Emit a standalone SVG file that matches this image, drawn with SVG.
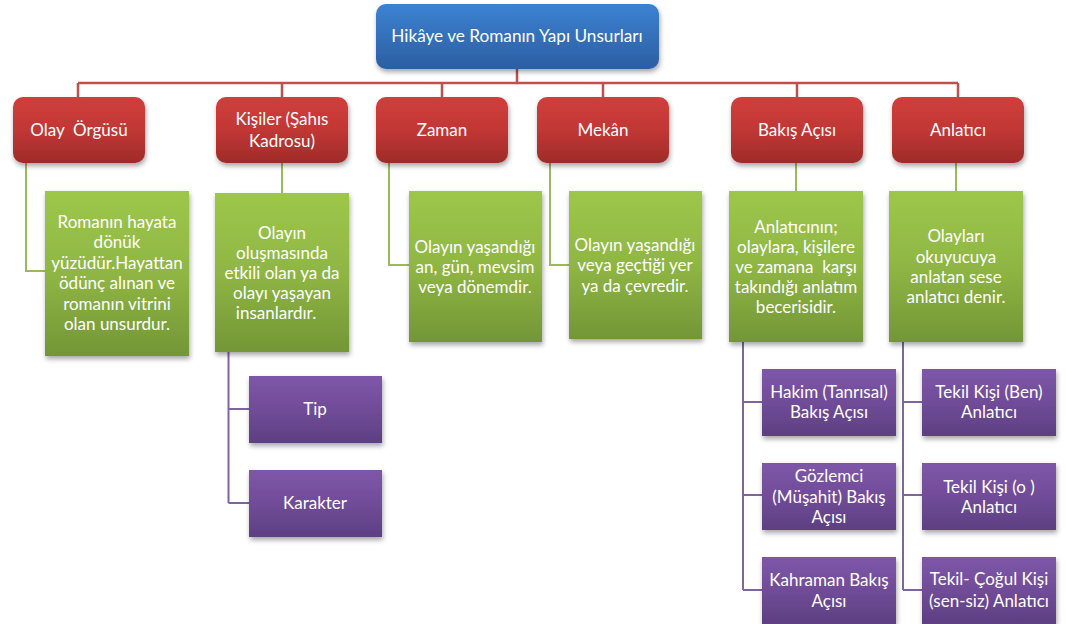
<svg xmlns="http://www.w3.org/2000/svg" width="1067" height="624" viewBox="0 0 1067 624">
<defs>
<linearGradient id="gBlue" x1="0" y1="0" x2="0" y2="1"><stop offset="0" stop-color="#3c82d2"/><stop offset="1" stop-color="#2c5ea2"/></linearGradient>
<linearGradient id="gRed" x1="0" y1="0" x2="0" y2="1"><stop offset="0" stop-color="#d03f3c"/><stop offset="0.5" stop-color="#c13735"/><stop offset="1" stop-color="#9f2b29"/></linearGradient>
<linearGradient id="gGreen" x1="0" y1="0" x2="0" y2="1"><stop offset="0" stop-color="#9dc74a"/><stop offset="0.5" stop-color="#8fb644"/><stop offset="1" stop-color="#739636"/></linearGradient>
<linearGradient id="gPurple" x1="0" y1="0" x2="0" y2="1"><stop offset="0" stop-color="#7e57a9"/><stop offset="0.5" stop-color="#704c98"/><stop offset="1" stop-color="#5d3f82"/></linearGradient>
<filter id="sh" x="-10%" y="-10%" width="125%" height="130%"><feDropShadow dx="1" dy="3" stdDeviation="2.5" flood-color="#000" flood-opacity="0.35"/></filter>
</defs>
<style>
text{font-family:Lato,"Open Sans","Liberation Sans",sans-serif;fill:#fff;text-anchor:middle}
.root{font-size:17.2px}
.red{font-size:17px}
.grn{font-size:17px}
.pur{font-size:17px}
.cr{stroke:#c0504d;stroke-width:2.5;fill:none}
.cg{stroke:#9bbb59;stroke-width:2;fill:none}
.cp{stroke:#8064a2;stroke-width:2;fill:none}
</style>
<g id="connectors">
<path class="cr" d="M517 69V83M78 83H958M78 83V97M282 83V97M442 83V97M603 83V97M797 83V97M958 83V97"/>
<path class="cg" d="M26 163V271H45M282 163V193M389 163V265H409M550 163V265H569M796 163V191M956 163V191"/>
<path class="cp" d="M228.5 352V503M228.5 409H249M228.5 503H249M743 342V590M743 402H762M743 495H762M743 590H762M903 342V590M903 402H922M903 495H922M903 590H922"/>
</g>
<g id="root"><rect x="376" y="4" width="283" height="65" rx="10" fill="url(#gBlue)" filter="url(#sh)"/><text class="root" x="517" y="42">Hikâye ve Romanın Yapı Unsurları</text></g>
<g id="olay"><rect x="13" y="97" width="132" height="66" rx="10" fill="url(#gRed)" filter="url(#sh)"/><text class="red" x="79" y="136" xml:space="preserve">Olay  Örgüsü</text></g>
<g id="kisiler"><rect x="216" y="97" width="132" height="66" rx="10" fill="url(#gRed)" filter="url(#sh)"/><text class="red" x="282" y="125">Kişiler (Şahıs</text><text class="red" x="282" y="147">Kadrosu)</text></g>
<g id="zaman"><rect x="376" y="97" width="132" height="66" rx="10" fill="url(#gRed)" filter="url(#sh)"/><text class="red" x="442" y="136">Zaman</text></g>
<g id="mekan"><rect x="537" y="97" width="132" height="66" rx="10" fill="url(#gRed)" filter="url(#sh)"/><text class="red" x="603" y="136">Mekân</text></g>
<g id="bakis"><rect x="731" y="97" width="132" height="66" rx="10" fill="url(#gRed)" filter="url(#sh)"/><text class="red" x="797" y="136">Bakış Açısı</text></g>
<g id="anlatici"><rect x="892" y="97" width="132" height="66" rx="10" fill="url(#gRed)" filter="url(#sh)"/><text class="red" x="958" y="136">Anlatıcı</text></g>
<g id="olay-desc"><rect x="45" y="191" width="144" height="165" fill="url(#gGreen)" filter="url(#sh)"/><text class="grn" x="117" y="228">Romanın hayata</text><text class="grn" x="117" y="248">dönük</text><text class="grn" x="117" y="269">yüzüdür.Hayattan</text><text class="grn" x="117" y="289">ödünç alınan ve</text><text class="grn" x="117" y="310">romanın vitrini</text><text class="grn" x="117" y="330">olan unsurdur.</text></g>
<g id="kisiler-desc"><rect x="215" y="193" width="134" height="159" fill="url(#gGreen)" filter="url(#sh)"/><text class="grn" x="282" y="239">Olayın</text><text class="grn" x="282" y="259">oluşmasında</text><text class="grn" x="282" y="279">etkili olan ya da</text><text class="grn" x="282" y="299">olayı yaşayan</text><text class="grn" x="276" y="319">insanlardır.</text></g>
<g id="zaman-desc"><rect x="409" y="191" width="133" height="151" fill="url(#gGreen)" filter="url(#sh)"/><text class="grn" x="475" y="253">Olayın yaşandığı</text><text class="grn" x="475" y="273">an, gün, mevsim</text><text class="grn" x="475" y="293">veya dönemdir.</text></g>
<g id="mekan-desc"><rect x="569" y="191" width="133" height="148" fill="url(#gGreen)" filter="url(#sh)"/><text class="grn" x="635" y="251">Olayın yaşandığı</text><text class="grn" x="635" y="271">veya geçtiği yer</text><text class="grn" x="635" y="292">ya da çevredir.</text></g>
<g id="bakis-desc"><rect x="729" y="191" width="134" height="151" fill="url(#gGreen)" filter="url(#sh)"/><text class="grn" x="796" y="233">Anlatıcının;</text><text class="grn" x="796" y="253">olaylara, kişilere</text><text class="grn" x="796" y="273" xml:space="preserve">ve zamana  karşı</text><text class="grn" x="796" y="293">takındığı anlatım</text><text class="grn" x="796" y="313">becerisidir.</text></g>
<g id="anlatici-desc"><rect x="889" y="191" width="134" height="151" fill="url(#gGreen)" filter="url(#sh)"/><text class="grn" x="956" y="242">Olayları</text><text class="grn" x="956" y="263">okuyucuya</text><text class="grn" x="956" y="283">anlatan sese</text><text class="grn" x="956" y="303">anlatıcı denir.</text></g>
<g id="tip"><rect x="249" y="376" width="133" height="67" fill="url(#gPurple)" filter="url(#sh)"/><text class="pur" x="315" y="415">Tip</text></g>
<g id="karakter"><rect x="249" y="470" width="133" height="67" fill="url(#gPurple)" filter="url(#sh)"/><text class="pur" x="315" y="509">Karakter</text></g>
<g id="hakim"><rect x="762" y="369" width="134" height="67" fill="url(#gPurple)" filter="url(#sh)"/><text class="pur" x="829" y="398">Hakim (Tanrısal)</text><text class="pur" x="829" y="418">Bakış Açısı</text></g>
<g id="gozlemci"><rect x="762" y="463" width="134" height="67" fill="url(#gPurple)" filter="url(#sh)"/><text class="pur" x="829" y="482">Gözlemci</text><text class="pur" x="829" y="503">(Müşahit) Bakış</text><text class="pur" x="829" y="523">Açısı</text></g>
<g id="kahraman"><rect x="762" y="557" width="134" height="67" fill="url(#gPurple)" filter="url(#sh)"/><text class="pur" x="829" y="586">Kahraman Bakış</text><text class="pur" x="829" y="607">Açısı</text></g>
<g id="tekil-ben"><rect x="922" y="369" width="134" height="67" fill="url(#gPurple)" filter="url(#sh)"/><text class="pur" x="989" y="398">Tekil Kişi (Ben)</text><text class="pur" x="989" y="418">Anlatıcı</text></g>
<g id="tekil-o"><rect x="922" y="463" width="134" height="67" fill="url(#gPurple)" filter="url(#sh)"/><text class="pur" x="989" y="493">Tekil Kişi (o )</text><text class="pur" x="989" y="513">Anlatıcı</text></g>
<g id="tekil-cogul"><rect x="922" y="557" width="134" height="67" fill="url(#gPurple)" filter="url(#sh)"/><text class="pur" x="989" y="585">Tekil- Çoğul Kişi</text><text class="pur" x="989" y="607">(sen-siz) Anlatıcı</text></g>
</svg>
